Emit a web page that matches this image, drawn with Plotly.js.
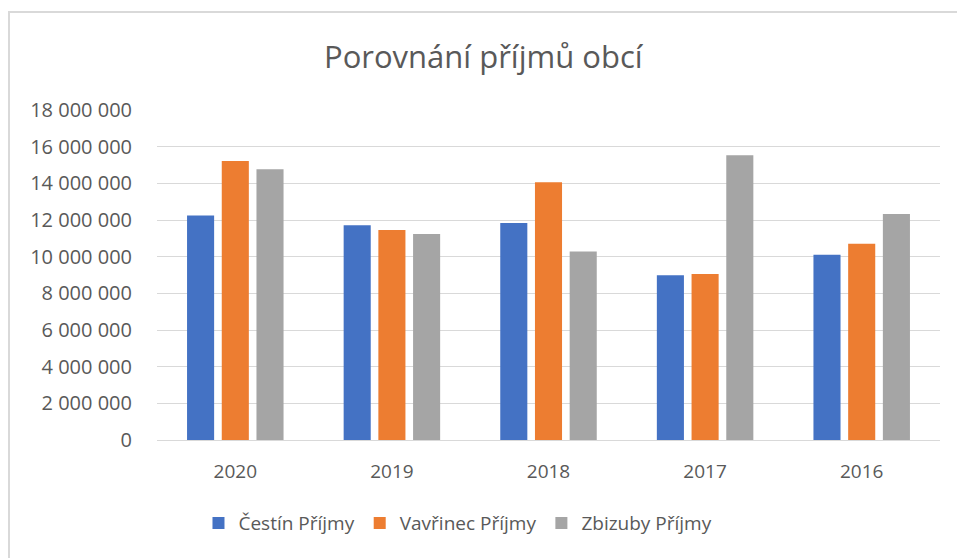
<!DOCTYPE html>
<html>
<head>
<meta charset="utf-8">
<script src="https://cdn.plot.ly/plotly-3.0.1.min.js"></script>
<style>
html,body{margin:0;padding:0;background:#fff;}
#wrap{position:relative;width:957px;height:558px;overflow:hidden;}
#frame{position:absolute;left:8px;top:11px;width:960px;height:560px;border-left:2px solid #D9D9D9;border-top:2px solid #D9D9D9;box-sizing:border-box;}
#chart{position:absolute;left:0;top:0;width:957px;height:558px;}
</style>
</head>
<body>
<div id="wrap"><div id="frame"></div><div id="chart"></div></div>
<script>
const years = ["2020", "2019", "2018", "2017", "2016"];
const cestin = [12240000, 11720000, 11840000, 8990000, 10110000];
const vavrinec = [15220000, 11460000, 14060000, 9060000, 10700000];
const zbizuby = [14770000, 11230000, 10280000, 15530000, 12330000];
const seriesNames = ["Čestín Příjmy", "Vavřinec Příjmy", "Zbizuby Příjmy"];
const colors = ["#4472C4", "#ED7D31", "#A5A5A5"];
const tickVals = [0, 2000000, 4000000, 6000000, 8000000, 10000000, 12000000, 14000000, 16000000, 18000000];
const tickText = ["0", "2 000 000", "4 000 000", "6 000 000", "8 000 000", "10 000 000", "12 000 000", "14 000 000", "16 000 000", "18 000 000"];

const font = "Open Sans, Noto Sans, sans-serif";
const txt = "#595959";
const data = [cestin, vavrinec, zbizuby].map((vals, i) => ({
  type: "bar",
  x: years,
  y: vals,
  name: seriesNames[i],
  marker: {color: colors[i]}
}));

const layout = {
  width: 957, height: 558,
  paper_bgcolor: "rgba(0,0,0,0)",
  plot_bgcolor: "rgba(0,0,0,0)",
  margin: {l: 157, r: 17, t: 110, b: 118},
  barmode: "group",
  bargap: 0.335,
  bargroupgap: 0.22,
  title: {text: "Porovnání příjmů obcí", font: {family: font, size: 31, color: txt}, x: 0.505, xanchor: "center", y: 0.897, yanchor: "middle"},
  font: {family: font, size: 19, color: txt},
  xaxis: {
    type: "category",
    showgrid: false,
    showline: true, linecolor: "#D9D9D9", linewidth: 1,
    ticks: "", ticklabelstandoff: 14,
    tickfont: {family: font, size: 19, color: txt}
  },
  yaxis: {
    range: [0, 18000000],
    tickvals: tickVals, ticktext: tickText,
    showgrid: true, gridcolor: "#D9D9D9", gridwidth: 1,
    zeroline: false, showline: false,
    ticks: "", ticklabelstandoff: 24,
    tickfont: {family: font, size: 20, color: txt}
  },
  legend: {
    orientation: "h", x: 0.3844, xanchor: "center", y: -0.252, yanchor: "middle",
    font: {family: font, size: 19, color: txt},
    itemwidth: 30
  },
  showlegend: true
};
Plotly.newPlot("chart", data, layout, {displayModeBar: false, staticPlot: true});
</script>
</body>
</html>
